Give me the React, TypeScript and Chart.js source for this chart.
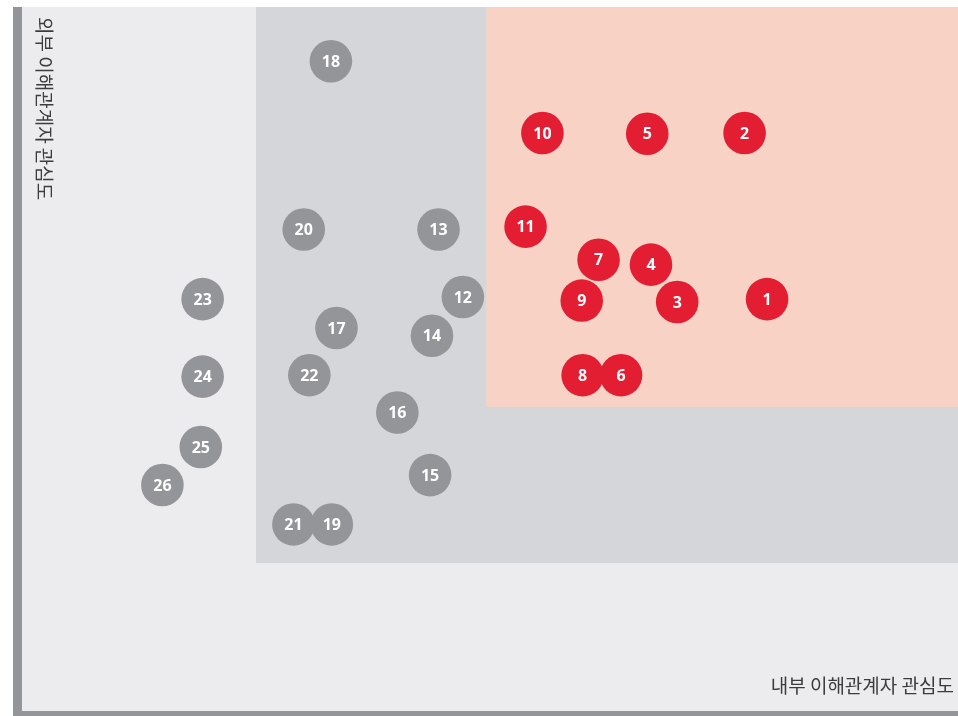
import React, { useEffect, useRef } from "react";
import { Chart, registerables } from "chart.js";

Chart.register(...registerables);

// Issue numbers, internal stakeholder interest (x), external stakeholder interest (y)
const issueIds = [1, 2, 3, 4, 5, 6, 7, 8, 9, 10, 11, 12, 13, 14, 15, 16, 17, 18, 19, 20, 21, 22, 23, 24, 25, 26];
const internalInterest = [79.6, 77.2, 70.0, 67.2, 66.8, 64.0, 61.6, 59.9, 59.8, 55.6, 53.8, 47.1, 44.5, 43.8, 43.6, 40.1, 33.6, 33.0, 33.1, 30.1, 29.0, 30.7, 19.3, 19.3, 19.1, 15.0];
const externalInterest = [58.5, 82.1, 58.1, 63.4, 82.0, 47.7, 64.1, 47.7, 58.3, 82.1, 68.8, 58.8, 68.4, 53.3, 33.5, 42.4, 54.4, 92.3, 26.5, 68.4, 26.5, 47.7, 58.5, 47.5, 37.5, 32.1];
const isMaterial = [true, true, true, true, true, true, true, true, true, true, true, false, false, false, false, false, false, false, false, false, false, false, false, false, false, false];

// Zone thresholds (x, y) on the 0-100 scales
const midZone = { x: 25, y: 21 };
const topZone = { x: 49.6, y: 43.2 };

const xTitle = "내부 이해관계자 관심도";
const yTitle = "외부 이해관계자 관심도";

const RED = "#e31e33";
const GRAY = "#939598";

export default function App() {
  const ref = useRef<HTMLCanvasElement | null>(null);

  useEffect(() => {
    if (!ref.current) return;
    // draw in reverse so that lower numbers sit on top
    const order = issueIds.map((_, i) => i).reverse();
    const points = order.map((i) => ({ x: internalInterest[i], y: externalInterest[i] }));
    const colors = order.map((i) => (isMaterial[i] ? RED : GRAY));
    const labels = order.map((i) => String(issueIds[i]));

    const zonesPlugin = {
      id: "zones",
      beforeDatasetsDraw(chart: any) {
        const { ctx, chartArea, scales } = chart;
        const xs = scales.x;
        const ys = scales.y;
        ctx.save();
        ctx.fillStyle = "#ececee";
        ctx.fillRect(chartArea.left, chartArea.top, chartArea.right - chartArea.left, chartArea.bottom - chartArea.top);
        const mx = xs.getPixelForValue(midZone.x);
        const my = ys.getPixelForValue(midZone.y);
        ctx.fillStyle = "#d5d6d9";
        ctx.fillRect(mx, chartArea.top, chartArea.right - mx, my - chartArea.top);
        const tx = xs.getPixelForValue(topZone.x);
        const ty = ys.getPixelForValue(topZone.y);
        ctx.fillStyle = "#f8d3c5";
        ctx.fillRect(tx, chartArea.top, chartArea.right - tx, ty - chartArea.top);
        // axis bars
        ctx.fillStyle = GRAY;
        ctx.fillRect(chartArea.left - 9, chartArea.top, 9, chart.height - chartArea.top);
        ctx.fillRect(chartArea.left - 9, chartArea.bottom, chartArea.right - chartArea.left + 9, chart.height - chartArea.bottom);
        // titles
        ctx.fillStyle = "#3c3c3c";
        ctx.font = '19px "Noto Sans CJK KR"';
        ctx.textBaseline = "middle";
        ctx.textAlign = "right";
        ctx.fillText(xTitle, chartArea.right - 4, chartArea.bottom - 25);
        ctx.save();
        ctx.translate(chartArea.left + 22, chartArea.top + 10);
        ctx.rotate(Math.PI / 2);
        ctx.textAlign = "left";
        ctx.fillText(yTitle, 0, 0);
        ctx.restore();
        ctx.restore();
      },
      afterDatasetsDraw(chart: any) {
        const { ctx } = chart;
        const meta = chart.getDatasetMeta(0);
        ctx.save();
        ctx.fillStyle = "#ffffff";
        ctx.font = 'bold 16px "Open Sans"';
        ctx.textAlign = "center";
        ctx.textBaseline = "middle";
        meta.data.forEach((el: any, i: number) => {
          ctx.fillText(labels[i], el.x, el.y + 1);
        });
        ctx.restore();
      },
    };

    const chart = new Chart(ref.current, {
      type: "scatter",
      data: {
        datasets: [
          {
            data: points,
            pointRadius: 21.3,
            pointHoverRadius: 21.3,
            pointBackgroundColor: colors,
            pointBorderWidth: 0,
            pointBorderColor: colors,
          },
        ],
      },
      options: {
        responsive: false,
        animation: false,
        events: [],
        layout: { autoPadding: false, padding: { left: 22, top: 7, right: 0, bottom: 5 } },
        plugins: { legend: { display: false }, tooltip: { enabled: false } },
        scales: {
          x: { type: "linear", min: 0, max: 100, display: false },
          y: { type: "linear", min: 0, max: 100, display: false },
        },
      },
      plugins: [zonesPlugin],
    });
    return () => chart.destroy();
  }, []);

  return (
    <div style={{ position: "absolute", left: 0, top: 0, width: 958, height: 716 }}>
      <canvas ref={ref} width={958} height={716} style={{ display: "block" }} />
    </div>
  );
}
